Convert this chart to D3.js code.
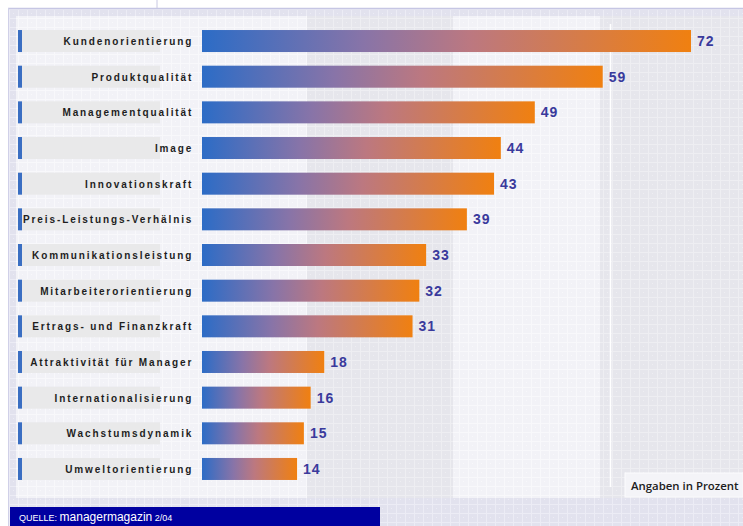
<!DOCTYPE html>
<html><head><meta charset="utf-8">
<script src="https://cdn.jsdelivr.net/npm/d3@7"></script>
<style>html,body{margin:0;padding:0;background:#fff;}svg{display:block;}</style>
</head><body>
<script>
const categories = ["Kundenorientierung","Produktqualität","Managementqualität","Image","Innovationskraft","Preis-Leistungs-Verhälnis","Kommunikationsleistung","Mitarbeiterorientierung","Ertrags- und Finanzkraft","Attraktivität für Manager","Internationalisierung","Wachstumsdynamik","Umweltorientierung"];
const values = [72,59,49,44,43,39,33,32,31,18,16,15,14];
const unitNote = "Angaben in Prozent";
const sourceLabel = "QUELLE: ";
const sourceName = "managermagazin";
const sourceIssue = " 2/04";

const W = 743, H = 526;
const svg = d3.select("body").append("svg").attr("width", W).attr("height", H);
const defs = svg.append("defs");

function gridPattern(id, base, line) {
  const p = defs.append("pattern").attr("id", id).attr("patternUnits", "userSpaceOnUse")
    .attr("width", 9).attr("height", 9);
  p.append("rect").attr("width", 9).attr("height", 9).attr("fill", base);
  p.append("rect").attr("x", 0).attr("y", 0).attr("width", 9).attr("height", 1).attr("fill", line);
  p.append("rect").attr("x", 0).attr("y", 0).attr("width", 1).attr("height", 9).attr("fill", line);
  p.append("rect").attr("x", 4).attr("y", 4).attr("width", 1).attr("height", 1).attr("fill", line);
}
gridPattern("pOuter", "#e2e2ee", "#ececf5");
gridPattern("pLight", "#f2f2f7", "#f8f8fb");
gridPattern("pGray", "#e6e6ec", "#eeeef2");

const grad = defs.append("linearGradient").attr("id", "barGrad")
  .attr("x1", "0").attr("x2", "1").attr("y1", "0").attr("y2", "0");
[[0,"#2c6cc6"],[0.33,"#8874a8"],[0.55,"#bc7880"],[1,"#f08010"]].forEach(([o,c]) =>
  grad.append("stop").attr("offset", o).attr("stop-color", c));

// backgrounds
svg.append("line").attr("x1", 157).attr("x2", 157).attr("y1", 0).attr("y2", 8)
  .attr("stroke", "#c8c8e2").attr("stroke-width", 1);
svg.append("rect").attr("x", 8).attr("y", 8).attr("width", W - 8).attr("height", H - 8).attr("fill", "url(#pOuter)");
svg.append("line").attr("x1", 8).attr("x2", W).attr("y1", 8.5).attr("y2", 8.5).attr("stroke", "#c6c6e4").attr("stroke-width", 1.5);
svg.append("line").attr("x1", 8.5).attr("x2", 8.5).attr("y1", 8).attr("y2", H).attr("stroke", "#d0d0e8").attr("stroke-width", 1);
svg.append("rect").attr("x", 16).attr("y", 16).attr("width", 291).attr("height", 482).attr("fill", "url(#pLight)");
svg.append("rect").attr("x", 307).attr("y", 16).attr("width", 146).attr("height", 482).attr("fill", "url(#pGray)");
svg.append("rect").attr("x", 453).attr("y", 16).attr("width", 147).attr("height", 482).attr("fill", "url(#pLight)");
svg.append("rect").attr("x", 600).attr("y", 16).attr("width", 143).attr("height", 482).attr("fill", "url(#pGray)");
svg.append("line").attr("x1", 610.5).attr("x2", 610.5).attr("y1", 24).attr("y2", 487)
  .attr("stroke", "#ffffff").attr("stroke-width", 1.5);

// scales
const y = d3.scaleBand().domain(categories).range([23.2, 486.8]).paddingInner(0.383).paddingOuter(0.1915);
const x = d3.scaleLinear().domain([0, 72]).range([202, 691]);
const bw = y.bandwidth();

const rows = svg.append("g").selectAll("g").data(categories.map((c, i) => ({c, v: values[i]})))
  .join("g").attr("transform", d => `translate(0,${y(d.c)})`);

rows.append("rect").attr("x", 22).attr("y", 0).attr("width", 138).attr("height", bw).attr("fill", "#e9e9ea");
rows.append("rect").attr("x", 18).attr("y", 0).attr("width", 4).attr("height", bw).attr("fill", "#3a6ec2");
rows.append("text").attr("x", 193.3).attr("y", bw / 2 + 4).attr("text-anchor", "end")
  .attr("font-family", "'Liberation Sans', Arial, sans-serif").attr("font-weight", "bold")
  .attr("font-size", 10).attr("letter-spacing", 1.9).attr("fill", "#1e1e1e").text(d => d.c);
rows.append("rect").attr("x", x(0)).attr("y", 0).attr("width", d => x(d.v) - x(0)).attr("height", bw)
  .attr("fill", "url(#barGrad)");
rows.append("text").attr("x", d => x(d.v) + 6).attr("y", bw / 2 + 5)
  .attr("font-family", "'Liberation Sans', Arial, sans-serif").attr("font-weight", "bold")
  .attr("font-size", 14).attr("letter-spacing", 1).attr("fill", "#3a3a9c").text(d => d.v);

// unit note
svg.append("rect").attr("x", 625).attr("y", 473).attr("width", 118).attr("height", 24)
  .attr("fill", "#f4f4f8").attr("stroke", "#fbfbfd").attr("stroke-width", 1);
svg.append("text").attr("x", 631).attr("y", 489.5).attr("font-family", "'Open Sans', sans-serif")
  .attr("font-weight", 600).attr("font-size", 11.4).attr("fill", "#202020").text(unitNote);

// footer
svg.append("rect").attr("x", 10).attr("y", 507).attr("width", 370).attr("height", 19).attr("fill", "#0000a0");
const ft = svg.append("text").attr("x", 19).attr("y", 521).attr("fill", "#ffffff")
  .attr("font-family", "'Liberation Sans', Arial, sans-serif");
ft.append("tspan").attr("font-size", 9).text(sourceLabel);
ft.append("tspan").attr("font-size", 12).text(sourceName);
ft.append("tspan").attr("font-size", 9).text(sourceIssue);
</script>
</body></html>
